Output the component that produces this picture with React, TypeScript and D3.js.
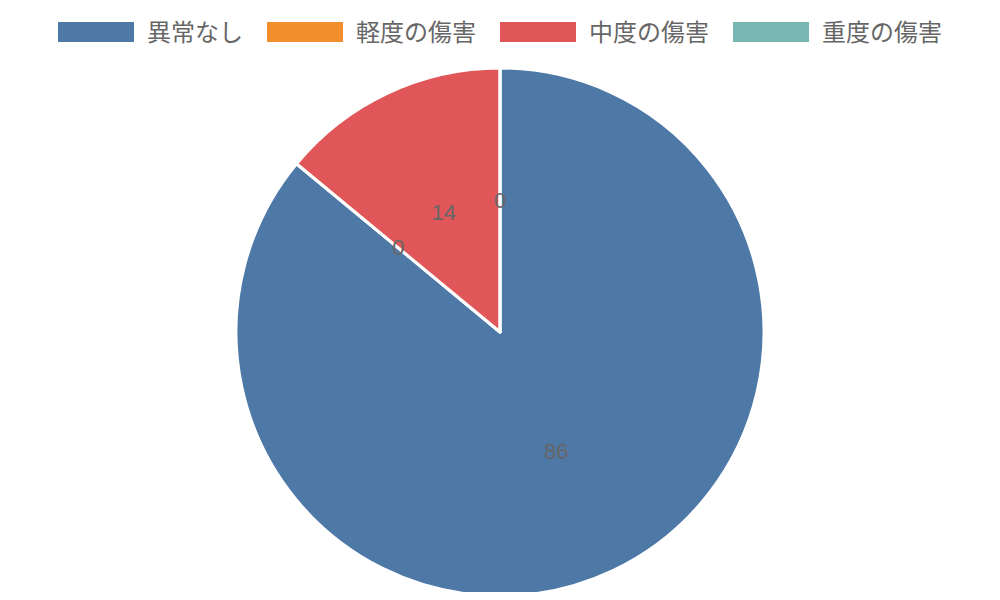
import React from 'react';
import * as d3 from 'd3';

const categories = ['異常なし', '軽度の傷害', '中度の傷害', '重度の傷害'];
const values = [86, 0, 14, 0];
const colors = ['#4e79a7', '#f28e2b', '#e15759', '#76b7b2'];

const width = 1000;
const height = 600;
const cx = 500;
const cy = 332;
const radius = 264;
const font = '"Liberation Sans", "Noto Sans CJK JP", sans-serif';

const App: React.FC = () => {
  const pie = d3.pie<number>().sort(null).value(d => d);
  const arcs = pie(values);
  const arc = d3.arc<d3.PieArcDatum<number>>().innerRadius(0).outerRadius(radius);
  const labelArc = d3.arc<d3.PieArcDatum<number>>().innerRadius(radius / 2).outerRadius(radius / 2);

  // legend layout: box, gap, text, spacing
  const boxW = 76;
  const boxH = 20;
  const charW = 24;
  const textGap = 13;
  const itemGap = 24;
  const itemWidths = categories.map(c => boxW + textGap + c.length * charW);
  const total = d3.sum(itemWidths) + itemGap * (categories.length - 1);
  let lx = (width - total) / 2;
  const legendItems = categories.map((c, i) => {
    const x = lx;
    lx += itemWidths[i] + itemGap;
    return { c, x, color: colors[i] };
  });

  return (
    <svg width={width} height={height} style={{ display: 'block', margin: '-8px' }}>
      <g>
        {legendItems.map(item => (
          <g key={item.c} transform={`translate(${item.x},22)`}>
            <rect width={boxW} height={boxH} fill={item.color} />
            <text
              x={boxW + textGap}
              y={boxH / 2}
              dy="0.36em"
              fontSize={24}
              fill="#666"
              fontFamily={font}
            >
              {item.c}
            </text>
          </g>
        ))}
      </g>
      <g transform={`translate(${cx},${cy})`}>
        {arcs.map((a, i) => (
          <path key={i} d={arc(a) || ''} fill={colors[i]} stroke="#fff" strokeWidth={3} strokeLinejoin="round" />
        ))}
        {arcs.map((a, i) => {
          const [x, y] = labelArc.centroid(a);
          return (
            <text
              key={`l${i}`}
              x={x}
              y={y}
              textAnchor="middle"
              dominantBaseline="central"
              fontSize={22}
              fill="#666"
              fontFamily={font}
            >
              {a.data}
            </text>
          );
        })}
      </g>
    </svg>
  );
};

export default App;
